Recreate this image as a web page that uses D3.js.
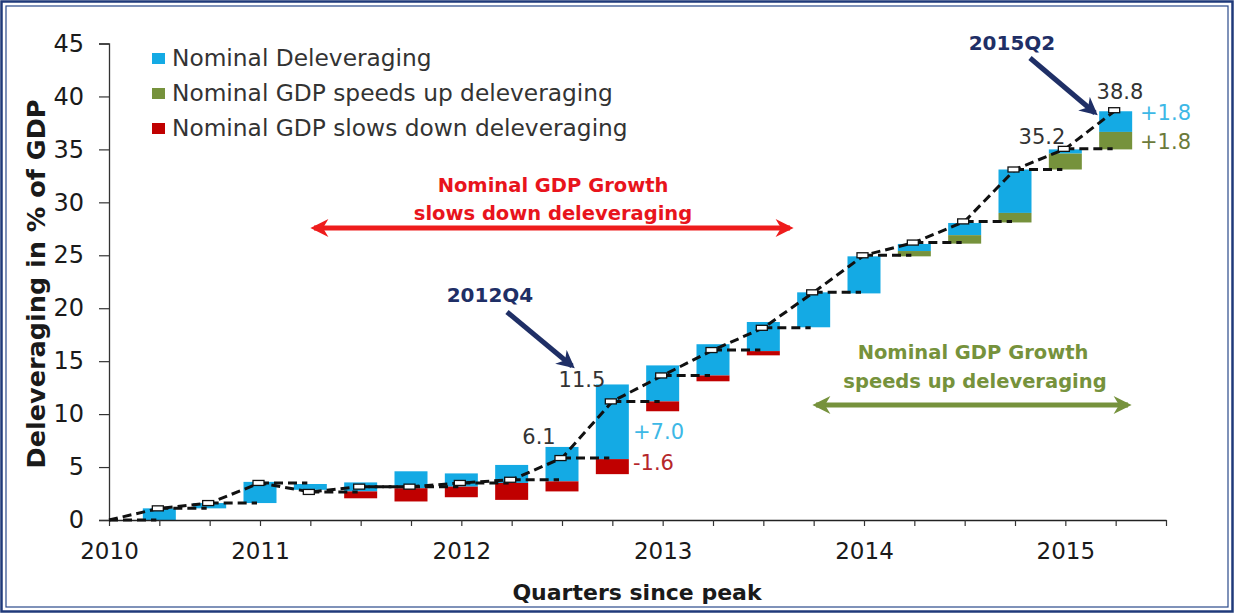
<!DOCTYPE html>
<html><head><meta charset="utf-8">
<script src="https://cdn.jsdelivr.net/npm/d3@7/dist/d3.min.js"></script>
<style>
html,body{margin:0;padding:0;background:#fff;}
svg{display:block;font-family:"DejaVu Sans",Verdana,sans-serif;}
</style></head>
<body>
<svg id="c" width="1235" height="614"></svg>
<script>
// ---- data (index 0 = peak quarter, 2010Q2) ----
const quarters = ["2010Q2","2010Q3","2010Q4","2011Q1","2011Q2","2011Q3","2011Q4","2012Q1","2012Q2","2012Q3","2012Q4","2013Q1","2013Q2","2013Q3","2013Q4","2014Q1","2014Q2","2014Q3","2014Q4","2015Q1","2015Q2"];
const cumulative = [0, 1.1, 1.6, 3.5, 2.65, 3.15, 3.15, 3.5, 3.8, 5.85, 11.2, 13.65, 16.05, 18.15, 21.5, 25.0, 26.2, 28.2, 33.1, 35.05, 38.7];
const nominalFrom = [null, 0, 1.1, 1.6, 2.85, 2.7, 3.0, 3.15, 3.5, 3.65, 5.75, 11.2, 13.65, 15.95, 18.2, 21.4, 25.4, 26.9, 29.0, 34.6, 36.65];
const nominalTo   = [null, 1.1, 1.6, 3.6, 3.4, 3.55, 4.6, 4.4, 5.2, 6.9, 12.8, 14.6, 16.6, 18.7, 21.5, 24.9, 26.07, 28.05, 33.1, 35.0, 38.6];
const slowFrom = [null,null,null,null,null, 2.05, 1.75, 2.15, 1.9, 2.7, 4.33, 10.27, 13.1, 15.55, null,null,null,null,null,null,null];
const slowTo   = [null,null,null,null,null, 2.7, 3.0, 3.15, 3.5, 3.65, 5.75, 11.2, 13.65, 15.95, null,null,null,null,null,null,null];
const speedFrom = [null,null,null,null,null,null,null,null,null,null,null,null,null,null,null,null, 24.9, 26.1, 28.1, 33.1, 35.0];
const speedTo   = [null,null,null,null,null,null,null,null,null,null,null,null,null,null,null,null, 25.4, 26.9, 29.0, 34.6, 36.65];
const xTickIdx = [0, 3, 7, 11, 15, 19];
const xTickLabels = ["2010","2011","2012","2013","2014","2015"];
const yTicks = [0,5,10,15,20,25,30,35,40,45];
const legendLabels = ["Nominal Deleveraging","Nominal GDP speeds up deleveraging","Nominal GDP slows down deleveraging"];

const C_BLUE = "#14aae4", C_GREEN = "#76923c", C_RED = "#c00000";

const svg = d3.select("#c");
// frame
svg.append("rect").attr("x",1.5).attr("y",1.5).attr("width",1231).attr("height",610).attr("fill","none").attr("stroke","#1f3a7a").attr("stroke-width",2.5);
svg.append("rect").attr("x",6).attr("y",6).attr("width",1222).attr("height",601).attr("fill","none").attr("stroke","#2a4a8a").attr("stroke-width",1.2);

const x = d3.scaleLinear().domain([0,21]).range([109,1166]);
const y = d3.scaleLinear().domain([0,45]).range([520,43.5]);
const bw = 33;

// bars
const g = svg.append("g");
function bars(from, to, color){
  g.selectAll(null).data(d3.range(from.length).filter(i=>from[i]!=null)).enter().append("rect")
    .attr("x", i=>x(i)-bw/2).attr("width",bw)
    .attr("y", i=>y(Math.max(from[i],to[i])))
    .attr("height", i=>Math.abs(y(from[i])-y(to[i])))
    .attr("fill", color);
}
bars(nominalFrom, nominalTo, C_BLUE);
bars(slowFrom, slowTo, C_RED);
bars(speedFrom, speedTo, C_GREEN);

// axes
const yAxis = svg.append("g").attr("transform","translate(109,0)")
  .call(d3.axisLeft(y).tickValues(yTicks).tickSize(10).tickPadding(15));
yAxis.select(".domain").attr("stroke","#333").attr("stroke-width",1.3);
yAxis.selectAll(".tick line").attr("stroke","#333").attr("stroke-width",1.2);
yAxis.selectAll(".tick text").attr("font-size",24).attr("fill","#1a1a1a").attr("font-family","DejaVu Sans");

const xAxis = svg.append("g").attr("transform","translate(0,520)")
  .call(d3.axisBottom(x).tickValues(d3.range(22)).tickSize(6).tickSizeOuter(0)
     .tickFormat(i=>{const k=xTickIdx.indexOf(i); return k>=0?xTickLabels[k]:"";}).tickPadding(17));
xAxis.select(".domain").attr("stroke","#222").attr("stroke-width",1.5);
xAxis.selectAll(".tick line").attr("stroke","#333").attr("stroke-width",1.2);
xAxis.selectAll(".tick text").attr("font-size",23).attr("fill","#1a1a1a").attr("font-family","DejaVu Sans");

// dashed lines
const dash = "9,5";
const lineGen = d3.line().x((d,i)=>x(i)).y(d=>y(d));
svg.append("path").attr("d", lineGen(cumulative)).attr("fill","none")
  .attr("stroke","#111").attr("stroke-width",3).attr("stroke-dasharray",dash);
svg.append("g").selectAll("line").data(d3.range(1,cumulative.length)).enter().append("line")
  .attr("x1", i=>x(i-1)).attr("x2", i=>x(i)-3)
  .attr("y1", i=>y(cumulative[i-1])).attr("y2", i=>y(cumulative[i-1]))
  .attr("stroke","#111").attr("stroke-width",3).attr("stroke-dasharray",dash);
// markers
svg.append("g").selectAll("rect").data(d3.range(1,cumulative.length)).enter().append("rect")
  .attr("x", i=>x(i)-7).attr("y", i=>y(cumulative[i])-2.5).attr("width",11).attr("height",5)
  .attr("fill","#fff").attr("stroke","#111").attr("stroke-width",1.3);

// legend
const lg = svg.append("g");
legendLabels.forEach((t,k)=>{
  const cy = 58 + k*35;
  lg.append("rect").attr("x",152).attr("y",cy-5).attr("width",13).attr("height",11)
    .attr("fill",[C_BLUE,C_GREEN,C_RED][k]);
  lg.append("text").attr("x",172).attr("y",cy).attr("dy","0.35em").attr("font-size",23.3)
    .attr("fill","#333").text(t);
});

// titles
svg.append("text").attr("transform","translate(36,284) rotate(-90)").attr("text-anchor","middle")
  .attr("dy","0.35em").attr("font-size",25.5).attr("font-weight","bold").attr("fill","#1a1a1a")
  .text("Deleveraging in % of GDP");
svg.append("text").attr("x",637).attr("y",592).attr("text-anchor","middle").attr("dy","0.35em")
  .attr("font-size",22).attr("font-weight","bold").attr("fill","#1a1a1a").text("Quarters since peak");

// arrows
const defs = svg.append("defs");
function marker(id,color,w,h){
  defs.append("marker").attr("id",id).attr("viewBox","0 0 10 10").attr("refX",8).attr("refY",5)
    .attr("markerWidth",w).attr("markerHeight",h).attr("orient","auto-start-reverse")
    .attr("markerUnits","userSpaceOnUse")
    .append("path").attr("d","M0,0 L10,5 L0,10 L3,5 Z").attr("fill",color);
}
marker("mr","#ee1c1c",20,18);
marker("mg",C_GREEN,20,18);
marker("mn","#1f2f66",20,18);
function arrow(x1,y1,x2,y2,color,m,both){
  const l = svg.append("line").attr("x1",x1).attr("y1",y1).attr("x2",x2).attr("y2",y2)
    .attr("stroke",color).attr("stroke-width",5).attr("marker-end",`url(#${m})`);
  if(both) l.attr("marker-start",`url(#${m})`);
}
arrow(314,228,790,228,"#ee1c1c","mr",true);
arrow(816,405,1128,405,C_GREEN,"mg",true);
arrow(507,312,572,366,"#1f2f66","mn",false);
arrow(1030,58,1095,113,"#1f2f66","mn",false);

// annotation texts
function txt(xx,yy,s,opt){
  const t = svg.append("text").attr("x",xx).attr("y",yy).attr("dy","0.35em").text(s)
    .attr("font-size",opt.size||21).attr("fill",opt.color||"#333")
    .attr("text-anchor",opt.anchor||"middle");
  if(opt.bold) t.attr("font-weight","bold");
}
txt(553,185,"Nominal GDP Growth",{size:19.5,bold:true,color:"#e8141c"});
txt(553,213,"slows down deleveraging",{size:19.5,bold:true,color:"#e8141c"});
txt(973,352,"Nominal GDP Growth",{size:19.5,bold:true,color:C_GREEN});
txt(975,381,"speeds up deleveraging",{size:19.5,bold:true,color:C_GREEN});
txt(490,295,"2012Q4",{size:20,bold:true,color:"#1f2f66"});
txt(1012,43,"2015Q2",{size:20,bold:true,color:"#1f2f66"});
txt(582,380,"11.5",{size:21,color:"#333"});
txt(539,437,"6.1",{size:21,color:"#333"});
txt(633,432,"+7.0",{size:21,color:"#3db8e6",anchor:"start"});
txt(633,463,"-1.6",{size:21,color:"#b5262a",anchor:"start"});
txt(1120,92,"38.8",{size:21,color:"#333"});
txt(1042,137,"35.2",{size:21,color:"#333"});
txt(1140,113,"+1.8",{size:21,color:"#3db8e6",anchor:"start"});
txt(1140,142,"+1.8",{size:21,color:"#6b7a3a",anchor:"start"});
</script>
</body></html>
